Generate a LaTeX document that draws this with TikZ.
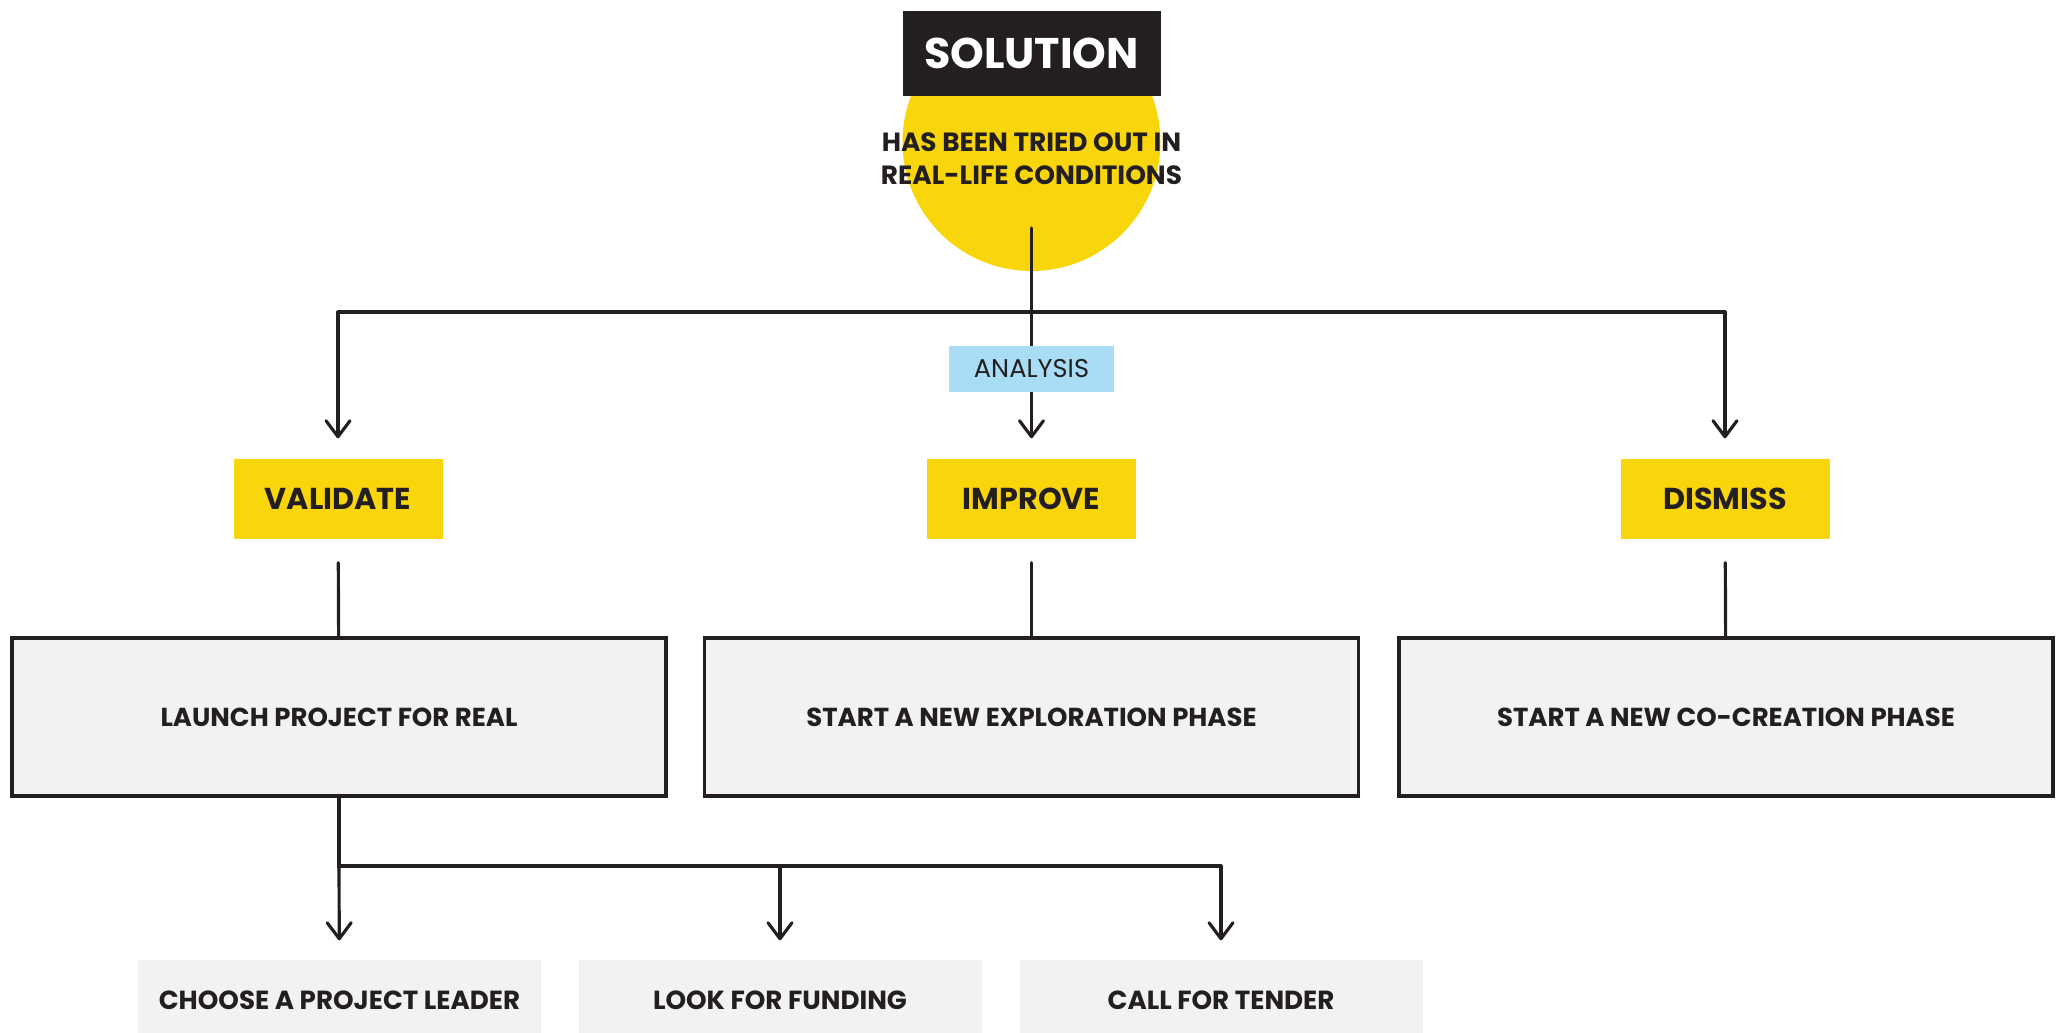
\documentclass[tikz,border=0pt]{standalone}
\usepackage{fontspec}
\setmainfont{Poppins}
\usepackage{tikz}
\usetikzlibrary{arrows.meta,positioning}
\definecolor{ink}{HTML}{231F20}
\definecolor{sun}{HTML}{F9D50B}
\definecolor{sky}{HTML}{A8DDF5}
\definecolor{paper}{HTML}{F2F2F2}

\begin{document}
\begin{tikzpicture}[>={Straight Barb[length=1.6mm,width=2.4mm,round]},
  link/.style={draw=ink, line width=0.9pt, line cap=round},
  choice/.style={fill=sun, text=ink, minimum width=2.09cm, minimum height=0.80cm, font=\fontsize{8.6}{10}\selectfont\bfseries},
  phase/.style={draw=ink, line width=1.1pt, fill=paper, text=ink, minimum width=6.54cm, minimum height=1.58cm, font=\fontsize{7.4}{8}\selectfont\bfseries},
  task/.style={fill=paper, text=ink, minimum width=4.03cm, minimum height=0.80cm, font=\fontsize{7.45}{8}\selectfont\bfseries}]
  \useasboundingbox (0,0) rectangle (20.63,-10.32);
  % solution head
  \node[circle, fill=sun, minimum size=2.58cm, inner sep=0pt] (circ) at (10.315,-1.42) {};
  \node[fill=ink, text=white, minimum width=2.58cm, minimum height=0.85cm, font=\fontsize{12.2}{14}\selectfont\bfseries] (sol) at (10.315,-0.53) {SOLUTION};
  \node[text=ink, align=center, font=\fontsize{7.5}{9.4}\selectfont\bfseries] (tried) at (10.315,-1.585) {HAS BEEN TRIED OUT IN\\REAL-LIFE CONDITIONS};
  % three outcomes
  \node[choice] (val) at (3.38,-4.99) {VALIDATE};
  \node[choice] (imp) at (10.315,-4.99) {IMPROVE};
  \node[choice] (dis) at (17.25,-4.99) {DISMISS};
  \coordinate (stem) at (10.315,-2.28);
  \coordinate (busl) at (val |- 0,-3.12);
  \coordinate (busr) at (dis |- 0,-3.12);
  \draw[link] (busl) -- (busr);
  \draw[link, ->, shorten >=0.2cm] (busl) -- (val);
  \draw[link, ->, shorten >=0.2cm] (busr) -- (dis);
  \draw[link, ->, shorten >=0.2cm] (stem) -- (imp);
  \node[fill=sky, text=ink, minimum width=1.65cm, minimum height=0.46cm, font=\fontsize{7.3}{8}\selectfont] (ana) at (10.315,-3.69) {ANALYSIS};
  % follow-up phases
  \node[phase] (launch) at (3.39,-7.17) {LAUNCH PROJECT FOR REAL};
  \node[phase] (explore) at (10.315,-7.17) {START A NEW EXPLORATION PHASE};
  \node[phase] (cocreate) at (17.26,-7.17) {START A NEW CO-CREATION PHASE};
  \draw[link, shorten <=0.23cm] (val) -- (launch);
  \draw[link, shorten <=0.23cm] (imp) -- (explore);
  \draw[link, shorten <=0.23cm] (dis) -- (cocreate);
  % next steps
  \node[task] (leader) at (3.395,-10.0) {CHOOSE A PROJECT LEADER};
  \node[task] (fund) at (7.80,-10.0) {LOOK FOR FUNDING};
  \node[task] (tender) at (12.21,-10.0) {CALL FOR TENDER};
  \coordinate (split) at (launch |- 0,-8.66);
  \draw[link] (launch.south) -- (split) -- (tender |- split);
  \draw[link, ->, shorten >=0.19cm] (split) -- (leader);
  \draw[link, ->, shorten >=0.19cm] (fund |- split) -- (fund);
  \draw[link, ->, shorten >=0.19cm] (tender |- split) -- (tender);
\end{tikzpicture}
\end{document}
